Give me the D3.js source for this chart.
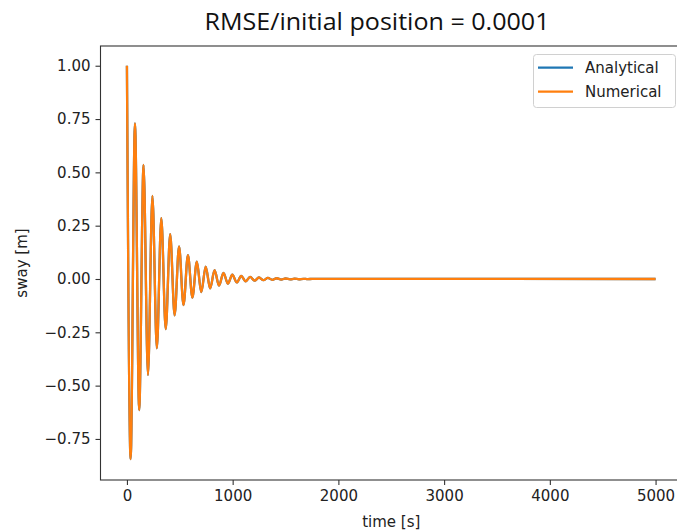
<!DOCTYPE html>
<html>
<head>
<meta charset="utf-8">
<script src="https://cdn.jsdelivr.net/npm/d3@7"></script>
<style>
  body { margin: 0; background: #fff; }
  svg { display: block; }
</style>
</head>
<body>
<div id="chart"></div>
<script>
// turning points of the sway record (time in s, sway in m)
const timeS = [0, 35, 76, 116, 157, 199, 241, 283, 325, 367, 409, 451, 493, 535, 577, 619,
  661, 703, 745, 787, 829, 871, 913, 955, 997, 1039, 1081, 1123, 1165, 1207, 1249, 1291,
  1333, 1375, 1417, 1459, 1501, 1543, 1585, 1627, 1669, 1711, 1753, 5000];
const analyticalSway = [1.0, -0.845, 0.73, -0.615, 0.535, -0.45, 0.39, -0.325, 0.285, -0.235,
  0.21, -0.17, 0.153, -0.122, 0.112, -0.087, 0.081, -0.062, 0.058, -0.044, 0.041, -0.031,
  0.029, -0.022, 0.02, -0.016, 0.014, -0.011, 0.01, -0.008, 0.007, -0.0055, 0.005, -0.004,
  0.0035, -0.0027, 0.0024, -0.0018, 0.0016, -0.0012, 0.001, -0.0007, 0.0006, 0];
// numerical result lies on top of the analytical one (RMSE 1e-4)
const numericalSway = [1.0, -0.845, 0.73, -0.615, 0.535, -0.45, 0.39, -0.325, 0.285, -0.235,
  0.21, -0.17, 0.153, -0.122, 0.112, -0.087, 0.081, -0.062, 0.058, -0.044, 0.041, -0.031,
  0.029, -0.022, 0.02, -0.016, 0.014, -0.011, 0.01, -0.008, 0.007, -0.0055, 0.005, -0.004,
  0.0035, -0.0027, 0.0024, -0.0018, 0.0016, -0.0012, 0.001, -0.0007, 0.0006, 0];

const seriesNames = ['Analytical', 'Numerical'];
const xTicks = [0, 1000, 2000, 3000, 4000, 5000];
const yTicks = [-0.75, -0.5, -0.25, 0, 0.25, 0.5, 0.75, 1.0];

const dims = {width: 677, height: 531};
const plot = {left: 100.5, right: 682, top: 46, bottom: 480};
const colors = ['#1f77b4', '#ff7f0e'];
const font = 'DejaVu Sans, sans-serif';
const textSize = '15px';

const svg = d3.select('#chart')
  .append('svg')
  .attr('width', dims.width)
  .attr('height', dims.height);

const x = d3.scaleLinear()
  .domain([-250, 5250])
  .range([plot.left, plot.right]);

const y = d3.scaleLinear()
  .domain([-0.9425, 1.0925])
  .range([plot.bottom, plot.top]);

const line = d3.line()
  .x(d => x(d.t))
  .y(d => y(d.v))
  .curve(d3.curveMonotoneX);

const series = [analyticalSway, numericalSway].map((vals, i) => ({
  name: seriesNames[i],
  color: colors[i],
  points: vals.map((v, j) => ({t: timeS[j], v: v}))
}));

svg.selectAll('path.series')
  .data(series)
  .enter()
  .append('path')
    .attr('class', 'series')
    .attr('fill', 'none')
    .attr('stroke', d => d.color)
    .attr('stroke-width', 2.3)
    .attr('stroke-linejoin', 'round')
    .attr('d', d => line(d.points));

// axes
const xAxis = svg.append('g')
  .attr('transform', `translate(0, ${plot.bottom})`)
  .call(d3.axisBottom(x).tickValues(xTicks).tickFormat(d3.format('d')).tickSize(5).tickPadding(5));

const yAxis = svg.append('g')
  .attr('transform', `translate(${plot.left}, 0)`)
  .call(d3.axisLeft(y).tickValues(yTicks).tickFormat(d => d3.format('.2f')(d).replace('-', '\u2212')).tickSize(5).tickPadding(5));

[xAxis, yAxis].forEach(g => {
  g.select('.domain').remove();
  g.selectAll('line').attr('stroke', '#333').attr('stroke-width', 1.1);
  g.selectAll('text')
    .attr('fill', '#222')
    .style('font-family', font)
    .style('font-size', textSize);
});

// frame
svg.append('rect')
  .attr('x', plot.left)
  .attr('y', plot.top)
  .attr('width', plot.right - plot.left)
  .attr('height', plot.bottom - plot.top)
  .attr('fill', 'none')
  .attr('stroke', '#333')
  .attr('stroke-width', 1.1);

// labels
svg.append('text')
  .attr('x', (plot.left + plot.right) / 2)
  .attr('y', 527)
  .attr('text-anchor', 'middle')
  .attr('fill', '#222')
  .style('font-family', font)
  .style('font-size', textSize)
  .text('time [s]');

svg.append('text')
  .attr('transform', `translate(27, ${(plot.top + plot.bottom) / 2}) rotate(-90)`)
  .attr('text-anchor', 'middle')
  .attr('fill', '#222')
  .style('font-family', font)
  .style('font-size', textSize)
  .text('sway [m]');

svg.append('text')
  .attr('x', 377)
  .attr('y', 30)
  .attr('text-anchor', 'middle')
  .attr('fill', '#111')
  .attr('textLength', 345)
  .attr('lengthAdjust', 'spacingAndGlyphs')
  .style('font-family', 'Open Sans, sans-serif')
  .style('font-size', '23px')
  .text('RMSE/initial position = 0.0001');

// legend
const legend = svg.append('g');
legend.append('rect')
  .attr('x', 533.5)
  .attr('y', 54.5)
  .attr('width', 142)
  .attr('height', 53)
  .attr('rx', 3)
  .attr('fill', 'rgba(255,255,255,0.8)')
  .attr('stroke', '#d0d0d0');

const items = legend.selectAll('g.item')
  .data(series)
  .enter()
  .append('g')
    .attr('class', 'item')
    .attr('transform', (d, i) => `translate(0, ${67.7 + i * 24})`);

items.append('line')
  .attr('x1', 538).attr('x2', 573)
  .attr('stroke', d => d.color)
  .attr('stroke-width', 2.3);

items.append('text')
  .attr('x', 585)
  .attr('y', 5)
  .attr('fill', '#222')
  .style('font-family', font)
  .style('font-size', textSize)
  .text(d => d.name);
</script>
</body>
</html>
